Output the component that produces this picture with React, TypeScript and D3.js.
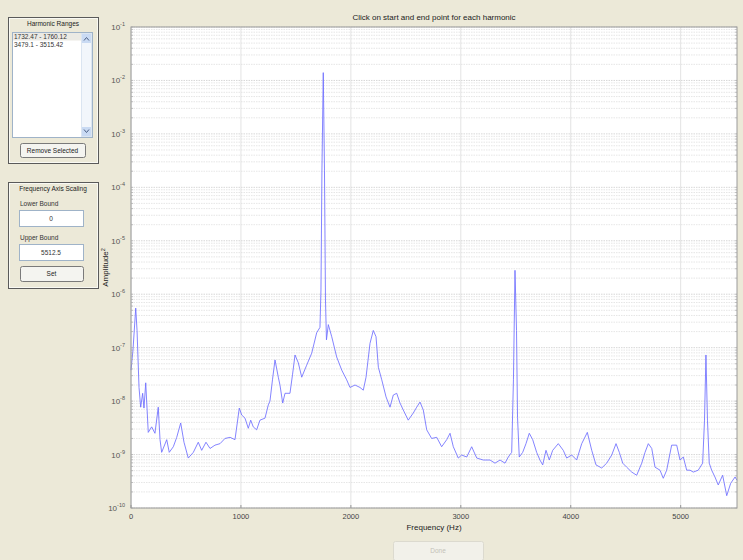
import { useEffect } from 'react';
import * as d3 from 'd3';

// spectrum: frequency (Hz) / amplitude^2
const freq = [
  0, 18, 43, 55, 73, 88, 106, 118, 134, 157, 188, 218, 248, 264, 279, 325, 348, 385, 416, 452,
  482, 521, 567, 612, 643, 682, 719, 764, 810, 855, 901, 946, 985, 1007, 1037, 1067, 1089, 1112, 1143, 1173,
  1219, 1249, 1264, 1287, 1310, 1340, 1355, 1380, 1401, 1446, 1469, 1492, 1522, 1553, 1598, 1644, 1689, 1719, 1728, 1737,
  1749, 1760, 1769, 1778, 1795, 1826, 1871, 1917, 1962, 1992, 2038, 2083, 2113, 2138, 2174, 2204, 2229, 2250, 2281, 2320,
  2356, 2386, 2417, 2447, 2477, 2522, 2568, 2599, 2629, 2659, 2690, 2735, 2781, 2826, 2872, 2902, 2932, 2977, 3008, 3054,
  3099, 3145, 3205, 3266, 3311, 3357, 3402, 3432, 3463, 3479, 3493, 3507, 3516, 3532, 3563, 3593, 3623, 3654, 3690, 3720,
  3745, 3775, 3805, 3836, 3887, 3932, 3963, 4009, 4054, 4100, 4151, 4191, 4230, 4282, 4327, 4373, 4412, 4442, 4473, 4509,
  4555, 4600, 4646, 4676, 4706, 4737, 4767, 4812, 4842, 4873, 4918, 4964, 4994, 5024, 5055, 5085, 5115, 5160, 5200, 5217,
  5230, 5244, 5260, 5282, 5312, 5342, 5382, 5419, 5455, 5495, 5512.5,
];
const amp = [
  3.8e-8, 9.0e-8, 5.5e-7, 2.1e-7, 1.8e-8, 7.7e-9, 1.4e-8, 7.4e-9, 2.2e-8, 2.6e-9, 3.3e-9, 2.5e-9, 7.7e-9, 1.9e-9, 1.1e-9, 1.9e-9, 1.1e-9, 1.4e-9, 2.1e-9, 3.9e-9,
  1.7e-9, 8.6e-10, 1.1e-9, 1.7e-9, 1.2e-9, 1.7e-9, 1.3e-9, 1.5e-9, 1.6e-9, 2.0e-9, 2.1e-9, 1.9e-9, 7.4e-9, 5.5e-9, 4.8e-9, 3.1e-9, 4.4e-9, 3.3e-9, 2.9e-9, 4.4e-9,
  4.8e-9, 8.5e-9, 1.0e-8, 2.5e-8, 5.9e-8, 2.8e-8, 2.0e-8, 9.2e-9, 1.4e-8, 1.4e-8, 3.1e-8, 7.3e-8, 5.2e-8, 2.8e-8, 4.7e-8, 7.9e-8, 1.9e-7, 2.4e-7, 1.2e-6, 2.1e-4,
  1.4e-2, 2.1e-4, 7.8e-7, 1.4e-7, 2.7e-7, 1.6e-7, 6.7e-8, 3.8e-8, 2.5e-8, 1.8e-8, 2.0e-8, 1.8e-8, 1.6e-8, 2.8e-8, 1.2e-7, 2.1e-7, 1.6e-7, 4.3e-8, 2.5e-8, 1.2e-8,
  7.7e-9, 1.3e-8, 1.4e-8, 9.2e-9, 6.8e-9, 4.4e-9, 6.0e-9, 7.7e-9, 9.6e-9, 6.8e-9, 2.9e-9, 2.0e-9, 2.1e-9, 1.4e-9, 1.9e-9, 2.5e-9, 1.4e-9, 8.6e-10, 9.8e-10, 9.0e-10,
  1.4e-9, 8.6e-10, 7.9e-10, 7.9e-10, 6.9e-10, 7.9e-10, 6.9e-10, 9.0e-10, 1.1e-9, 2.5e-8, 2.8e-6, 2.1e-7, 5.0e-9, 9.0e-10, 1.1e-9, 1.6e-9, 2.5e-9, 1.9e-9, 1.1e-9, 7.9e-10,
  6.4e-10, 1.2e-9, 7.9e-10, 1.2e-9, 1.6e-9, 1.2e-9, 8.6e-10, 9.8e-10, 7.9e-10, 1.6e-9, 2.6e-9, 1.2e-9, 6.4e-10, 5.6e-10, 6.9e-10, 9.8e-10, 1.6e-9, 1.1e-9, 6.9e-10, 5.8e-10,
  4.7e-10, 4.1e-10, 6.9e-10, 1.1e-9, 1.6e-9, 1.3e-9, 5.8e-10, 5.1e-10, 3.6e-10, 5.1e-10, 1.5e-9, 1.5e-9, 7.9e-10, 9.0e-10, 5.1e-10, 5.1e-10, 4.7e-10, 5.1e-10, 6.9e-10, 4.4e-9,
  7.3e-8, 4.4e-9, 6.9e-10, 5.1e-10, 3.8e-10, 2.7e-10, 4.1e-10, 1.7e-10, 2.9e-10, 3.8e-10, 3.3e-10,
];

const xTicks = [0, 1000, 2000, 3000, 4000, 5000];
const yExps = [-10, -9, -8, -7, -6, -5, -4, -3, -2, -1];
const ranges = ['1732.47 - 1760.12', '3479.1 - 3515.42'];
const lowerBound = '0';
const upperBound = '5512.5';

const BG = '#ece9d8';
const UI = 'Liberation Sans, Arial, sans-serif';

function Panel({ x, y, w, h, title }: { x: number; y: number; w: number; h: number; title: string }) {
  return (
    <g>
      <rect x={x + 0.5} y={y + 0.5} width={w} height={h} fill={BG} stroke="#5a5a5a" />
      <rect x={x + 1.5} y={y + 1.5} width={w - 2} height={h - 2} fill="none" stroke="#fff" strokeOpacity={0.7} />
      <text x={x + w / 2} y={y + 9} textAnchor="middle" fontSize={6.5} fill="#222">{title}</text>
    </g>
  );
}

function Button({ x, y, w, h, label, disabled }: { x: number; y: number; w: number; h: number; label: string; disabled?: boolean }) {
  return (
    <g>
      <rect x={x + 0.5} y={y + 0.5} width={w} height={h} rx={2} fill={disabled ? '#f2f1ea' : '#f4f4f0'}
        stroke={disabled ? '#dcdacf' : '#7a7a7a'} />
      <text x={x + w / 2} y={y + h / 2 + 2.5} textAnchor="middle" fontSize={6.5} fill={disabled ? '#c4c2b8' : '#222'}>{label}</text>
    </g>
  );
}

function Field({ x, y, w, h, value }: { x: number; y: number; w: number; h: number; value: string }) {
  return (
    <g>
      <rect x={x + 0.5} y={y + 0.5} width={w} height={h} fill="#fff" stroke="#9fb3c8" />
      <text x={x + w / 2} y={y + h / 2 + 2.5} textAnchor="middle" fontSize={6.5} fill="#333">{value}</text>
    </g>
  );
}

export default function App() {
  useEffect(() => {
    document.body.style.margin = '0';
  }, []);

  const left = 131, right = 737, top = 27, bottom = 508;
  const x = d3.scaleLinear().domain([0, 5512.5]).range([left, right]);
  const y = d3.scaleLog().domain([1e-10, 1e-1]).range([bottom, top]);

  const pts = freq.map((f, i) => [f, amp[i]] as [number, number]);
  const line = d3.line<[number, number]>().x(d => x(d[0])).y(d => y(d[1]));

  const minor: number[] = [];
  yExps.slice(0, -1).forEach(e => {
    for (let m = 2; m <= 9; m++) minor.push(m * Math.pow(10, e));
  });

  return (
    <svg width={743} height={560} style={{ display: 'block', background: BG, fontFamily: UI }}>
      <rect width={743} height={560} fill={BG} />

      {/* left controls */}
      <Panel x={8} y={17} w={90} h={146} title="Harmonic Ranges" />
      <rect x={12.5} y={32.5} width={80} height={105} fill="#fff" stroke="#9fb3c8" />
      <rect x={13} y={33} width={68} height={7.5} fill="#ebeae4" />
      {ranges.map((r, i) => (
        <text key={r} x={14} y={39 + i * 7.5} fontSize={6.5} fill="#333">{r}</text>
      ))}
      <rect x={81.5} y={33.5} width={10} height={103} fill="#f2f6fb" stroke="#dbe5f1" />
      <rect x={82} y={34} width={9} height={9} fill="#c9daf3" />
      <path d="M84,40.5 L86.5,37.5 L89,40.5" fill="none" stroke="#4d6185" />
      <rect x={82} y={127} width={9} height={9} fill="#c9daf3" />
      <path d="M84,129.5 L86.5,132.5 L89,129.5" fill="none" stroke="#4d6185" />
      <Button x={20} y={143} w={65} h={14} label="Remove Selected" />

      <Panel x={8} y={182} w={90} h={106} title="Frequency Axis Scaling" />
      <text x={20} y={206} fontSize={6.5} fill="#333">Lower Bound</text>
      <Field x={19} y={210} w={64} h={16} value={lowerBound} />
      <text x={20} y={240} fontSize={6.5} fill="#333">Upper Bound</text>
      <Field x={19} y={244} w={64} h={16} value={upperBound} />
      <Button x={20} y={266} w={63} h={15} label="Set" />

      {/* axes */}
      <rect x={left} y={top} width={right - left} height={bottom - top} fill="#fff" />
      {minor.map((v, i) => (
        <line key={'m' + i} x1={left} x2={right} y1={y(v)} y2={y(v)} stroke="#e0e0e0" strokeWidth={0.8} strokeDasharray="1.5,1" />
      ))}
      {yExps.map(e => (
        <line key={'g' + e} x1={left} x2={right} y1={y(Math.pow(10, e))} y2={y(Math.pow(10, e))} stroke="#cdcdcd" strokeWidth={0.8} strokeDasharray="1.5,1" />
      ))}
      {xTicks.map(t => (
        <line key={'v' + t} x1={x(t)} x2={x(t)} y1={top} y2={bottom} stroke="#dcdcdc" strokeWidth={0.8} />
      ))}

      <path d={line(pts) || ''} fill="none" stroke="#6f6fff" strokeWidth={1} strokeOpacity={0.85} />

      <rect x={left} y={top} width={right - left} height={bottom - top} fill="none" stroke="#9a9a9a" strokeWidth={1} />
      {minor.concat(yExps.map(e => Math.pow(10, e))).map((v, i) => (
        <g key={'t' + i}>
          <line x1={left} x2={left + 2} y1={y(v)} y2={y(v)} stroke="#aaa" strokeWidth={0.7} />
          <line x1={right - 2} x2={right} y1={y(v)} y2={y(v)} stroke="#aaa" strokeWidth={0.7} />
        </g>
      ))}
      {xTicks.map(t => (
        <g key={'xt' + t}>
          <line x1={x(t)} x2={x(t)} y1={bottom} y2={bottom - 3} stroke="#999" />
          <text x={x(t)} y={bottom + 11} textAnchor="middle" fontSize={7.5} fill="#444">{t}</text>
        </g>
      ))}
      {yExps.map(e => (
        <text key={'yl' + e} x={left - 6} y={y(Math.pow(10, e)) + 3} textAnchor="end" fontSize={8} fill="#555">
          10<tspan dy={-4} fontSize={5.5}>{e}</tspan>
        </text>
      ))}

      <text x={(left + right) / 2} y={20} textAnchor="middle" fontSize={8} fill="#222">
        Click on start and end point for each harmonic
      </text>
      <text x={(left + right) / 2} y={530} textAnchor="middle" fontSize={8} fill="#222">Frequency (Hz)</text>
      <text transform={`translate(108,${(top + bottom) / 2}) rotate(-90)`} textAnchor="middle" fontSize={8} fill="#222">
        Amplitude<tspan dy={-3} fontSize={5.5}>2</tspan>
      </text>

      <Button x={393} y={541} w={90} h={19} label="Done" disabled />
    </svg>
  );
}
